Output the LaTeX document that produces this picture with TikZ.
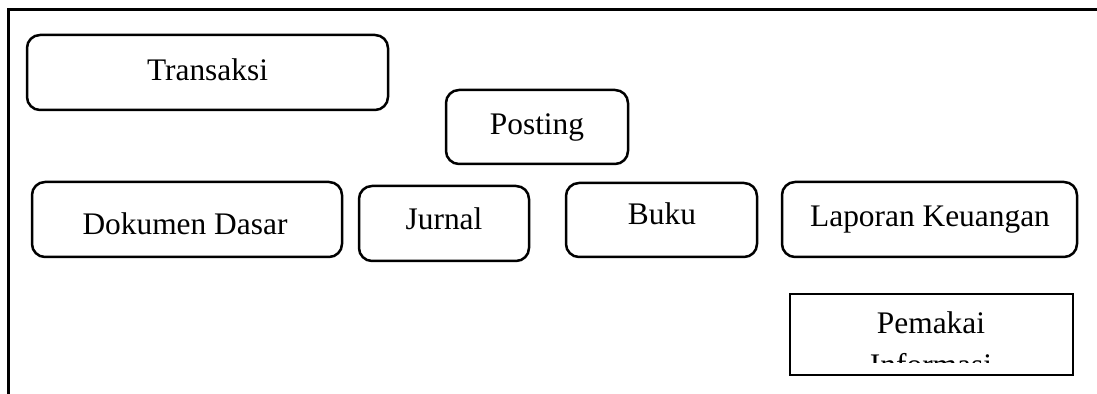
\documentclass[tikz,border=0pt]{standalone}
\usepackage{fontspec}
\setmainfont{Liberation Serif}
\begin{document}
\begin{tikzpicture}[x=0.5pt,y=-0.5pt,
  rbox/.style={draw, rounded corners=6.5pt, line width=1.25pt, inner sep=0pt},
  sbox/.style={draw, line width=1.4pt, inner sep=0pt},
  txt/.style={anchor=base, inner sep=0pt, font=\fontsize{15.7}{18}\selectfont},
  frameline/.style={line width=1.5pt}]
\useasboundingbox (0,0) rectangle (1097,394);
% frame
\coordinate (fl) at (8,394);
\coordinate (fc) at (8,10);
\coordinate (fr) at (1097,10);
\draw[frameline] (fl) -- (fc) -- (fr);
% boxes
\node[rbox, minimum width=180.5pt, minimum height=37.5pt] (trans) at (207.5,72.5) {};
\node[txt] (transT) at (207.5,81) {Transaksi};
\node[rbox, minimum width=91pt, minimum height=37pt] (post) at (537,127) {};
\node[txt] (postT) at (537,135) {Posting};
\node[rbox, minimum width=155pt, minimum height=37.5pt] (dok) at (187,219.5) {};
\node[txt] (dokT) at (185,235) {Dokumen Dasar};
\node[rbox, minimum width=85pt, minimum height=37.5pt] (jur) at (444,223.5) {};
\node[txt] (jurT) at (444,230) {Jurnal};
\node[rbox, minimum width=95.5pt, minimum height=37pt] (buku) at (661.5,220) {};
\node[txt] (bukuT) at (662,225) {Buku};
\node[rbox, minimum width=147.5pt, minimum height=37.5pt] (lap) at (929.5,219.5) {};
\node[txt] (lapT) at (930,227) {Laporan Keuangan};
\node[sbox, minimum width=141.5pt, minimum height=40.5pt] (pem) at (931.5,334.5) {};
\node[txt] (pemT) at (931,334) {Pemakai};
\begin{scope}
  \clip (pem.north west) rectangle (pem.south east |- 0,363);
  \node[txt] (infT) at (931,376) {Informasi};
\end{scope}
\end{tikzpicture}
\end{document}
